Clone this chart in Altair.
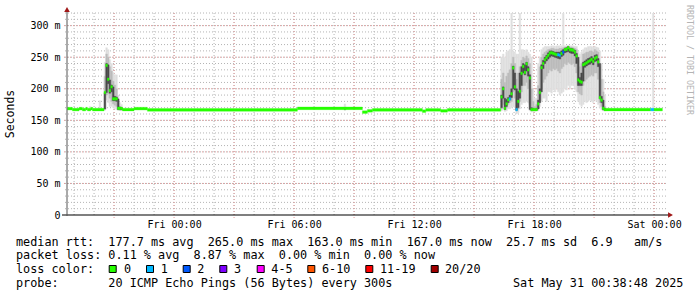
import altair as alt
import pandas as pd

# ---------------- data ----------------
# 5-minute steps, step k starts at Thu 2025-05-29 18:40 + 5k min
STEP0 = pd.Timestamp("2025-05-29 18:40:00")

# long flat stretches of the median: step ranges [k0, k1), median in ms, loss bucket
flat_k0 = [0, 3, 7, 9, 11, 12, 14, 15, 33, 40, 48, 138, 177, 180, 183, 213, 215, 224, 228, 322, 350, 352]
flat_k1 = [3, 7, 9, 11, 12, 14, 15, 22, 40, 48, 138, 177, 180, 183, 213, 215, 224, 228, 260, 350, 352, 357]
flat_med = [168.5, 167, 168.5, 167, 168.5, 167, 168.5, 167, 167, 168.5, 166.5, 169, 163, 165,
            166.5, 164.5, 166.5, 165, 166.5, 167, 167, 167]
flat_loss = ["0"] * 20 + ["1", "0"]

# evening spike, steps 22..32
spike_k0 = 22
spike_med = [194, 237, 215, 197, 203, 184, 184, 184, 169, 169, 169]
spike_loss = ["0"] * 11

# Friday evening congestion, steps 260..321
hump_k0 = 260
hump_med = [187, 200, 169, 176, 182.5, 184, 192, 233, 203, 167,
            180, 196, 224.5, 235.4, 226, 239.5, 230, 217, 167, 167,
            167, 167, 176, 194, 233.5, 240, 246, 249.5, 253, 256.6,
            257, 256, 255, 254, 254, 253, 256, 258, 262, 262.5,
            265, 262, 261.5, 261, 258, 252, 214, 211.6, 210.5, 238,
            239.5, 241, 243, 244.4, 246.5, 243.2, 248, 250, 242.6, 186,
            182, 169]
hump_loss = ["0"] * 62
hump_loss[5] = "1"
hump_loss[9] = "1"
hump_loss[34] = "1"
hump_loss[35] = "1"
hump_loss[37] = "2"

# smoke (ping spread) per step: outer min/max, middle band, dark core
smoke_k = ([13, 19, 166, 351] + list(range(22, 33)) + list(range(260, 323)))
smoke_olo = [166, 166, 166, 165,
             166, 182, 178, 172, 172, 170, 168, 167, 166, 166, 166,
             165, 168, 164, 165, 168, 168, 170, 172, 170, 160,
             162, 168, 175, 178, 178, 180, 178, 165, 163, 164,
             164, 165, 165, 172, 180, 185, 185, 180, 195, 195,
             193, 198, 195, 200, 195, 190, 193, 195, 200, 198,
             205, 200, 205, 205, 200, 195, 180, 175, 172, 175,
             180, 178, 180, 182, 180, 178, 182, 180, 175, 170,
             167, 165, 165]
smoke_ohi = [172, 181, 176, 320,
             242, 265, 262, 246, 240, 226, 222, 222, 190, 178, 175,
             250, 255, 250, 258, 260, 262, 320, 260, 258, 255,
             255, 320, 262, 262, 260, 262, 258, 255, 250, 200,
             185, 185, 240, 250, 262, 265, 267, 267, 267, 267,
             268, 268, 267, 268, 268, 268, 268, 320, 268, 268,
             269, 268, 268, 268, 267, 267, 260, 255, 258, 262,
             265, 265, 267, 267, 267, 266, 267, 266, 265, 260,
             240, 215, 190]
smoke_mlo = [167, 167, 167, 167,
             167, 190, 192, 185, 180, 176, 174, 172, 167, 166, 166,
             168, 175, 167, 170, 175, 178, 180, 195, 185, 165,
             168, 180, 195, 205, 205, 210, 200, 175, 166, 166,
             166, 166, 168, 180, 200, 210, 215, 220, 225, 230,
             228, 232, 230, 232, 228, 225, 232, 235, 240, 238,
             242, 240, 238, 240, 235, 225, 195, 192, 190, 205,
             212, 215, 218, 220, 222, 220, 225, 225, 215, 178,
             172, 166, 166]
smoke_mhi = [167, 167, 167, 167,
             220, 255, 250, 235, 228, 212, 206, 200, 180, 172, 170,
             215, 225, 210, 220, 225, 230, 240, 250, 240, 215,
             225, 235, 245, 250, 248, 252, 248, 240, 200, 180,
             172, 175, 205, 235, 250, 255, 258, 260, 262, 263,
             264, 264, 263, 263, 263, 264, 264, 265, 266, 266,
             267, 266, 266, 265, 264, 262, 245, 235, 240, 255,
             256, 258, 258, 260, 260, 258, 262, 260, 258, 235,
             215, 195, 172]
smoke_dlo = [167, 167, 167, 167,
             168, 194, 208, 193, 195, 181, 181, 180, 167, 167, 167,
             170, 185, 167, 172, 178, 182, 186, 200, 198, 166,
             170, 185, 205, 225, 222, 228, 220, 167, 166, 166,
             166, 166, 168, 178, 195, 232, 240, 244, 247, 250,
             252, 251, 250, 249, 248, 247, 251, 253, 257, 258,
             259, 257, 256, 256, 252, 240, 205, 205, 205, 212,
             234, 236, 238, 239, 241, 238, 243, 244, 235, 184,
             178, 167, 166]
smoke_dhi = [167, 167, 167, 167,
             194, 240, 238, 214, 206, 203, 188, 187, 184, 171, 170,
             190, 203, 185, 183, 186, 190, 200, 236, 225, 200,
             196, 225, 235, 240, 238, 242, 235, 222, 170, 169,
             168, 169, 182, 200, 238, 245, 250, 253, 257, 260,
             260, 259, 258, 258, 258, 258, 260, 262, 264, 265,
             267, 264, 264, 263, 261, 256, 250, 218, 225, 242,
             244, 246, 248, 249, 251, 248, 253, 254, 248, 240,
             188, 182, 169]

loss_labels = ["0", "1", "2", "3", "4-5", "6-10", "11-19", "20/20"]
loss_colors = ["#26ff00", "#00b8ff", "#0059ff", "#7e00ff", "#ff00ff", "#ff5500", "#ff0000", "#a10000"]

y_tick_values = [0, 50, 100, 150, 200, 250, 300]
y_minor = list(range(10, 330, 10))
y_major = [50, 100, 150, 200, 250, 300]

legend_row1 = "median rtt:  177.7 ms avg  265.0 ms max  163.0 ms min  167.0 ms now  25.7 ms sd  6.9   am/s"
legend_row2 = "packet loss: 0.11 % avg  8.87 % max  0.00 % min  0.00 % now"
legend_row3 = "loss color:"
legend_row4 = "probe:       20 ICMP Echo Pings (56 Bytes) every 300s"
stamp = "Sat May 31 00:38:48 2025"
watermark = "RRDTOOL / TOBI OETIKER"

# ---------------- tables ----------------
def ts(k):
    return (STEP0 + pd.Timedelta(minutes=5 * k)).strftime("%Y-%m-%dT%H:%M:%S")

rows = []
for k0, k1, m, l in zip(flat_k0, flat_k1, flat_med, flat_loss):
    rows.append({"t0": ts(k0), "t1": ts(k1), "med": m, "loss": l})
for i, (m, l) in enumerate(zip(spike_med, spike_loss)):
    k = spike_k0 + i
    rows.append({"t0": ts(k), "t1": ts(k + 1), "med": m, "loss": l})
for i, (m, l) in enumerate(zip(hump_med, hump_loss)):
    k = hump_k0 + i
    rows.append({"t0": ts(k), "t1": ts(k + 1), "med": m, "loss": l})
med_df = pd.DataFrame(rows)

smoke_df = pd.DataFrame({
    "t0": [ts(k) for k in smoke_k], "t1": [ts(k + 1) for k in smoke_k],
    "olo": smoke_olo, "ohi": smoke_ohi, "mlo": smoke_mlo, "mhi": smoke_mhi,
    "dlo": smoke_dlo, "dhi": smoke_dhi,
})

first_hour = pd.Timestamp("2025-05-29 19:00:00")
hours = [first_hour + pd.Timedelta(hours=h) for h in range(30)]
vgrid_minor = pd.DataFrame({"t": [h.strftime("%Y-%m-%dT%H:%M:%S") for h in hours]})
vgrid_major = pd.DataFrame({"t": [h.strftime("%Y-%m-%dT%H:%M:%S") for h in hours if h.hour % 3 == 0]})
hgrid_minor = pd.DataFrame({"v": y_minor})
hgrid_major = pd.DataFrame({"v": y_major})

# ---------------- scales / axes ----------------
MONO = "DejaVu Sans Mono"
x_scale = alt.Scale(domain=[
    alt.DateTime(year=2025, month=5, date=29, hours=18, minutes=38, seconds=48),
    alt.DateTime(year=2025, month=5, date=31, hours=0, minutes=38, seconds=48)])
y_scale = alt.Scale(domain=[0, 320], nice=False, zero=False)

x_label_values = [alt.DateTime(year=2025, month=5, date=30, hours=h) for h in (0, 6, 12, 18)] + \
                 [alt.DateTime(year=2025, month=5, date=31, hours=0)]
x_axis = alt.Axis(values=x_label_values, format="%a %H:%M", grid=False, domain=False, ticks=False,
                  labelFont=MONO, labelFontSize=10, labelColor="#000", labelPadding=4,
                  labelFlush=False, labelOverlap=False, title=None)
y_axis = alt.Axis(values=y_tick_values, labelExpr="datum.value == 0 ? '0' : datum.value + ' m'",
                  grid=False, domain=False, ticks=False, labelFont=MONO, labelFontSize=10,
                  labelColor="#000", labelPadding=7, title=None)

GRAY = "#b4b4b4"
RED = "#e49a9a"

layers = []
layers.append(alt.Chart(vgrid_minor).mark_rule(color=GRAY, strokeDash=[1, 2], strokeWidth=1).encode(
    x=alt.X("t:T", scale=x_scale, axis=x_axis), y=alt.value(0), y2=alt.value(204)))
layers.append(alt.Chart(hgrid_minor).mark_rule(color=GRAY, strokeDash=[1, 2], strokeWidth=1).encode(
    y=alt.Y("v:Q", scale=y_scale, axis=y_axis), x=alt.value(-2), x2=alt.value(600)))
layers.append(alt.Chart(vgrid_major).mark_rule(color=RED, strokeDash=[1, 2], strokeWidth=1).encode(
    x=alt.X("t:T", scale=x_scale, axis=x_axis), y=alt.value(0), y2=alt.value(205)))
layers.append(alt.Chart(hgrid_major).mark_rule(color=RED, strokeDash=[1, 2], strokeWidth=1).encode(
    y=alt.Y("v:Q", scale=y_scale, axis=y_axis), x=alt.value(-3), x2=alt.value(600)))

for lo, hi, col in (("olo", "ohi", "#e0e0e0"), ("mlo", "mhi", "#bdbdbd"), ("dlo", "dhi", "#4a4a4a")):
    layers.append(alt.Chart(smoke_df).mark_rect(color=col, stroke=col, strokeWidth=0.4, clip=True).encode(
        x=alt.X("t0:T", scale=x_scale, axis=x_axis), x2="t1:T",
        y=alt.Y(f"{lo}:Q", scale=y_scale, axis=y_axis), y2=f"{hi}:Q"))

layers.append(alt.Chart(med_df).transform_calculate(
    lo="datum.med - 2.1", hi="datum.med + 2.1").mark_rect(strokeWidth=0.3, clip=True).encode(
    x=alt.X("t0:T", scale=x_scale, axis=x_axis), x2="t1:T",
    y=alt.Y("lo:Q", scale=y_scale, axis=y_axis), y2="hi:Q",
    color=alt.Color("loss:N", scale=alt.Scale(domain=loss_labels, range=loss_colors), legend=None),
    stroke=alt.Stroke("loss:N", scale=alt.Scale(domain=loss_labels, range=loss_colors), legend=None)))

one = pd.DataFrame({"a": [0]})
# axis lines and arrows
layers.append(alt.Chart(one).mark_rule(color="#000", strokeWidth=1.2).encode(
    x=alt.value(-5), x2=alt.value(603), y=alt.value(202)))
layers.append(alt.Chart(one).mark_rule(color="#555", strokeWidth=1).encode(
    x=alt.value(0), y=alt.value(-2), y2=alt.value(203)))
layers.append(alt.Chart(one).mark_point(shape="triangle-right", filled=True, size=32,
                                        color="#a01818", opacity=1).encode(
    x=alt.value(603.5), y=alt.value(202)))
layers.append(alt.Chart(one).mark_point(shape="triangle-up", filled=True, size=32,
                                        color="#a01818", opacity=1).encode(
    x=alt.value(0), y=alt.value(-3.5)))

def label(txt, x, y, **kw):
    props = dict(font=MONO, fontSize=11.8, color="#000", align="left", baseline="middle")
    props.update(kw)
    return alt.Chart(one).mark_text(text=txt.replace(" ", "\u00a0"), **props).encode(
        x=alt.value(x), y=alt.value(y))

layers.append(label("Seconds", -56, 101, angle=270, align="center", fontSize=11.5))
layers.append(label(watermark, 621.5, 47, angle=90, align="center", fontSize=8.3, color="#b4b4b4"))
layers.append(label(legend_row1, -51, 228.7))
layers.append(label(legend_row2, -51, 242))
layers.append(label(legend_row3, -51, 256))
layers.append(label(legend_row4, -51, 269.7))
layers.append(label(stamp, 446, 269.7))

sq_x = [45.7, 83, 119.7, 156.3, 193.7, 244.3, 302.3, 367.7]
lab_x = [57, 93.7, 130.3, 167, 204.3, 255, 313, 378]
for lab, col, sx, lx in zip(loss_labels, loss_colors, sq_x, lab_x):
    layers.append(alt.Chart(one).mark_square(size=49, color=col, fill=col, stroke="#000",
                                             strokeWidth=1, opacity=1).encode(
        x=alt.value(sx), y=alt.value(256)))
    layers.append(label(lab, lx, 256))

chart = alt.layer(*layers).properties(
    width=600, height=202, background="white",
    autosize=alt.AutoSizeParams(type="none"),
    padding={"left": 67, "top": 13, "right": 30, "bottom": 82},
).configure_view(stroke=None)

chart.save("out.html", embed_options={"renderer": "svg", "actions": False})
